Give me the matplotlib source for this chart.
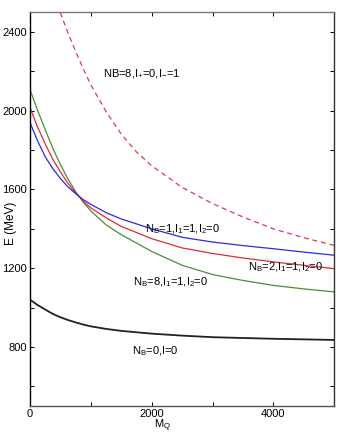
import numpy as np
import matplotlib
matplotlib.use("Agg")
import matplotlib.pyplot as plt
from matplotlib.ticker import MultipleLocator

plt.rcParams['font.family'] = ['Liberation Sans', 'DejaVu Sans']
plt.rcParams['mathtext.fontset'] = 'custom'
plt.rcParams['mathtext.rm'] = 'Liberation Sans'
plt.rcParams['mathtext.it'] = 'Liberation Sans'

# values
mq = [0, 125, 250, 375, 500, 625, 750, 875, 1000, 1250, 1500, 2000, 2500, 3000, 3500, 4000, 4500, 5000]
e_nb1 = [1938, 1845, 1765, 1705, 1655, 1612, 1578, 1548, 1524, 1482, 1450, 1400, 1357, 1333, 1315, 1299, 1282, 1266]
e_nb2 = [2014, 1915, 1830, 1752, 1688, 1630, 1582, 1540, 1506, 1456, 1412, 1350, 1303, 1275, 1252, 1232, 1215, 1198]
e_nb8 = [2105, 2000, 1902, 1808, 1725, 1652, 1588, 1535, 1490, 1420, 1370, 1285, 1215, 1168, 1138, 1113, 1095, 1080]
e_nb0 = [1040, 1013, 990, 968, 951, 937, 925, 914, 905, 892, 882, 868, 858, 850, 846, 842, 839, 836]

mq_dash = [450, 500, 625, 750, 875, 1000, 1250, 1500, 1750, 2000, 2500, 3000, 3500, 4000, 4500, 5000]
e_dash = [2540, 2495, 2392, 2300, 2212, 2130, 1995, 1880, 1790, 1720, 1610, 1528, 1460, 1400, 1355, 1316]

fig = plt.figure(figsize=(3.46, 4.33), dpi=100)
ax = fig.add_axes([0.087, 0.062, 0.879, 0.910])

ax.plot(mq_dash, e_dash, color='#e03a4e', lw=0.9, ls=(0, (4, 3)))
ax.plot(mq, e_nb8, color='#4f8a35', lw=0.9)
ax.plot(mq, e_nb2, color='#e02a3a', lw=0.9)
ax.plot(mq, e_nb1, color='#2a2ae8', lw=0.9)
ax.plot(mq, e_nb0, color='#222222', lw=1.3)

fs = 8
ax.text(1200, 2187, r'NB=8,I$_{+}$=0,I$_{-}$=1', fontsize=fs, va='center')
ax.text(1890, 1399, r'N$_{B}$=1,I$_{1}$=1,I$_{2}$=0', fontsize=fs, va='center')
ax.text(3582, 1206, r'N$_{B}$=2,I$_{1}$=1,I$_{2}$=0', fontsize=fs, va='center')
ax.text(1690, 1130, r'N$_{B}$=8,I$_{1}$=1,I$_{2}$=0', fontsize=fs, va='center')
ax.text(1676, 780, r'N$_{B}$=0,I=0', fontsize=fs, va='center')

ax.set_xlim(0, 5000)
ax.set_ylim(500, 2500)
ax.xaxis.set_major_locator(MultipleLocator(2000))
ax.xaxis.set_minor_locator(MultipleLocator(1000))
ax.yaxis.set_minor_locator(MultipleLocator(200))
ax.set_yticks([800, 1200, 1600, 2000, 2400])
ax.tick_params(which='both', direction='in', top=True, right=True, labelsize=fs,
               length=3, width=0.7, pad=2.5)
ax.tick_params(axis='x', pad=1.8)

ax.set_xlabel(r'M$_{Q}$', fontsize=fs)
ax.set_ylabel('E (MeV)', fontsize=8.5)
ax.xaxis.set_label_coords(0.434, -0.030)
ax.yaxis.set_label_coords(-0.042, 0.465)

ax.spines['left'].set_color('black')
ax.spines['right'].set_color('#333333')
ax.spines['top'].set_color('#777777')
ax.spines['bottom'].set_color('#555555')
for s in ax.spines.values():
    s.set_linewidth(1.0)

fig.savefig('out.png', dpi=100)
